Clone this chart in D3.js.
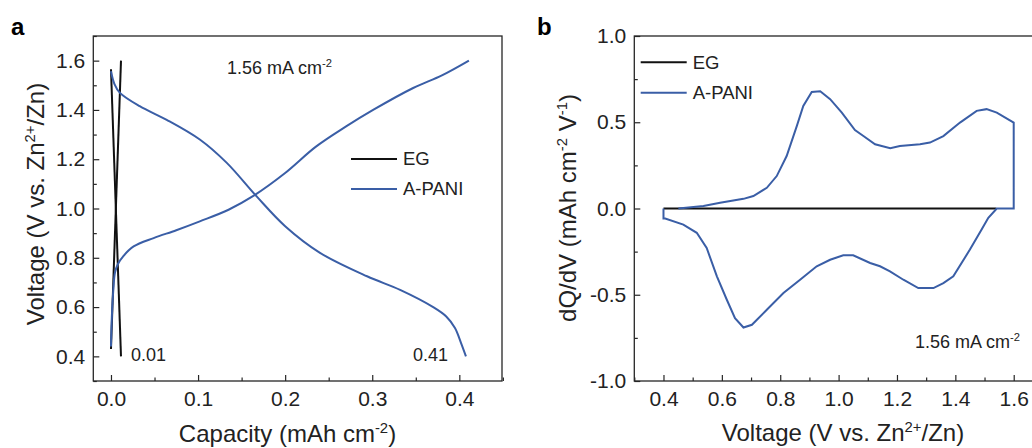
<!DOCTYPE html>
<html>
<head>
<meta charset="utf-8">
<script src="https://cdn.jsdelivr.net/npm/d3@7"></script>
<style>
  body { margin: 0; background: #fff; }
  svg { font-family: Arial, "Liberation Sans", sans-serif; }
  .frame { fill: none; stroke: #262626; stroke-width: 1.3; }
  .axis line { stroke: #262626; stroke-width: 1.2; }
  .axis text { font-size: 21px; fill: #222; }
  .blue { fill: none; stroke: #3a5ea6; stroke-width: 2; }
  .black { fill: none; stroke: #111; stroke-width: 2; }
</style>
</head>
<body>
<svg class="chart"></svg>
<script>
var width = 1032, height = 448;

// panel a: galvanostatic charge/discharge
var egChargeCap = [0.0, 0.0115];
var egChargeV = [0.43, 1.60];
var egDischargeCap = [0.0, 0.0115];
var egDischargeV = [1.565, 0.40];

var paniChargeCap = [0.0, 0.001, 0.0025, 0.0046, 0.008, 0.014, 0.026, 0.049, 0.075, 0.102, 0.135, 0.163, 0.2, 0.235, 0.27, 0.301, 0.347, 0.38, 0.411];
var paniChargeV = [0.44, 0.56, 0.66, 0.74, 0.775, 0.806, 0.846, 0.88, 0.912, 0.948, 0.995, 1.05, 1.144, 1.25, 1.333, 1.40, 1.489, 1.54, 1.60];
var paniDischargeCap = [0.0, 0.004, 0.0103, 0.033, 0.064, 0.102, 0.133, 0.167, 0.2, 0.24, 0.294, 0.332, 0.37, 0.385, 0.395, 0.402, 0.4076];
var paniDischargeV = [1.557, 1.505, 1.469, 1.415, 1.36, 1.28, 1.185, 1.05, 0.928, 0.82, 0.725, 0.67, 0.60, 0.562, 0.515, 0.454, 0.40];

// panel b: dQ/dV
var egCvV = [0.4, 1.54];
var egCvQ = [0, 0];
var paniCvV = [0.451, 0.537, 0.594, 0.674, 0.708, 0.754, 0.788, 0.822, 0.857, 0.879, 0.908, 0.937, 0.971, 1.011, 1.056, 1.085, 1.125, 1.177, 1.21, 1.279, 1.313, 1.359, 1.416, 1.473, 1.507, 1.542, 1.6,
  1.6, 1.542, 1.513, 1.49, 1.45, 1.393, 1.359, 1.325, 1.273, 1.222, 1.176, 1.142, 1.108, 1.05, 1.016, 0.971, 0.925, 0.868, 0.811, 0.754, 0.703, 0.674, 0.645, 0.617, 0.583, 0.548, 0.514, 0.468, 0.406, 0.4, 0.4];
var paniCvQ = [0, 0.014, 0.033, 0.056, 0.072, 0.12, 0.188, 0.304, 0.479, 0.595, 0.676, 0.68, 0.634, 0.556, 0.455, 0.42, 0.372, 0.349, 0.362, 0.372, 0.382, 0.42, 0.498, 0.566, 0.576, 0.556, 0.498,
  0, 0, -0.054, -0.122, -0.238, -0.393, -0.432, -0.461, -0.461, -0.413, -0.364, -0.335, -0.316, -0.271, -0.271, -0.297, -0.335, -0.413, -0.49, -0.587, -0.674, -0.69, -0.636, -0.529, -0.393, -0.229, -0.141, -0.093, -0.058, -0.058, 0];

var aXTicks = [0, 0.1, 0.2, 0.3, 0.4], aXMinor = [0.05, 0.15, 0.25, 0.35, 0.45];
var aYTicks = [0.4, 0.6, 0.8, 1.0, 1.2, 1.4, 1.6], aYMinor = [0.3, 0.5, 0.7, 0.9, 1.1, 1.3, 1.5, 1.7];
var bXTicks = [0.4, 0.6, 0.8, 1.0, 1.2, 1.4, 1.6], bXMinor = [0.3, 0.5, 0.7, 0.9, 1.1, 1.3, 1.5];
var bYTicks = [-1.0, -0.5, 0.0, 0.5, 1.0], bYMinor = [-0.75, -0.25, 0.25, 0.75];

var zip = function(xs, ys) { return xs.map(function(x, i) { return [x, ys[i]]; }); };
var fmt = function(d) { return d3.format(".1f")(d).replace("\u2212", "-"); };
var noDomain = function(s) { s.select(".domain").remove(); };
var noText = function(s) { s.select(".domain").remove(); s.selectAll("text").remove(); };

var chart = d3.select(".chart").attr("width", width).attr("height", height);

function drawPanel(o) {
    var x = d3.scaleLinear().domain(o.xDomain).range([o.left, o.right]);
    var y = d3.scaleLinear().domain(o.yDomain).range([o.bottom, o.top]);
    var g = chart.append("g");

    g.append("g").attr("class", "axis")
        .attr("transform", "translate(0," + o.bottom + ")")
        .call(d3.axisBottom(x).tickValues(o.xTicks).tickSize(-6).tickPadding(10).tickFormat(fmt))
        .call(noDomain);
    g.append("g").attr("class", "axis")
        .attr("transform", "translate(0," + o.bottom + ")")
        .call(d3.axisBottom(x).tickValues(o.xMinor).tickSize(-3.5))
        .call(noText);
    g.append("g").attr("class", "axis")
        .attr("transform", "translate(" + o.left + ",0)")
        .call(d3.axisLeft(y).tickValues(o.yTicks).tickSize(-6).tickPadding(8).tickFormat(fmt))
        .call(noDomain);
    g.append("g").attr("class", "axis")
        .attr("transform", "translate(" + o.left + ",0)")
        .call(d3.axisLeft(y).tickValues(o.yMinor).tickSize(-3.5))
        .call(noText);

    g.append("rect").attr("class", "frame")
        .attr("x", o.left).attr("y", o.top)
        .attr("width", o.right - o.left).attr("height", o.bottom - o.top);

    var line = d3.line().x(function(d) { return x(d[0]); }).y(function(d) { return y(d[1]); }).curve(o.curve);
    o.series.forEach(function(s) {
        g.append("path").attr("class", s.cls).attr("d", line(s.pts));
    });

    // legend
    o.legend.forEach(function(l, i) {
        var ly = o.legendY + i * o.legendGap;
        g.append("line").attr("class", l.cls)
            .attr("x1", o.legendX).attr("x2", o.legendX + 46).attr("y1", ly).attr("y2", ly);
        g.append("text").attr("x", o.legendX + 52).attr("y", ly).attr("dy", "0.35em")
            .style("font-size", "18.5px").attr("fill", "#222").text(l.name);
    });
    return { x: x, y: y, g: g };
}

drawPanel({
    left: 93.3, right: 502, top: 36, bottom: 381,
    xDomain: [-0.0203, 0.449], yDomain: [0.3, 1.7],
    xTicks: aXTicks, xMinor: aXMinor, yTicks: aYTicks, yMinor: aYMinor,
    curve: d3.curveCatmullRom,
    series: [
        { cls: "black", pts: zip(egChargeCap, egChargeV) },
        { cls: "black", pts: zip(egDischargeCap, egDischargeV) },
        { cls: "blue", pts: zip(paniChargeCap, paniChargeV) },
        { cls: "blue", pts: zip(paniDischargeCap, paniDischargeV) }
    ],
    legend: [{ cls: "black", name: "EG" }, { cls: "blue", name: "A-PANI" }],
    legendX: 351, legendY: 159, legendGap: 30
});

drawPanel({
    left: 634.3, right: 1042.9, top: 36, bottom: 381,
    xDomain: [0.3, 1.7], yDomain: [-1, 1],
    xTicks: bXTicks, xMinor: bXMinor, yTicks: bYTicks, yMinor: bYMinor,
    curve: d3.curveLinear,
    series: [
        { cls: "black", pts: zip(egCvV, egCvQ) },
        { cls: "blue", pts: zip(paniCvV, paniCvQ) }
    ],
    legend: [{ cls: "black", name: "EG" }, { cls: "blue", name: "A-PANI" }],
    legendX: 640.7, legendY: 62.3, legendGap: 30.4
});

// text with superscripts; the part after a superscript drops back down
function label(x, y, parts, size, anchor, rotate) {
    var t = chart.append("text").attr("fill", "#222").style("font-size", size + "px")
        .attr("text-anchor", anchor || "start");
    if (rotate) t.attr("transform", "translate(" + x + "," + y + ") rotate(-90)");
    else t.attr("x", x).attr("y", y);
    var shift = size * 0.38, raised = false;
    parts.forEach(function(p) {
        var ts = t.append("tspan").text(p.t);
        if (p.sup) {
            ts.style("font-size", (size * 0.62) + "px");
            if (!raised) ts.attr("dy", -shift);
            raised = true;
        } else if (raised) {
            ts.attr("dy", shift);
            raised = false;
        }
    });
    return t;
}

// panel letters
chart.append("text").attr("x", 11).attr("y", 35).style("font-size", "24px").style("font-weight", "bold").text("a");
chart.append("text").attr("x", 537).attr("y", 35).style("font-size", "24px").style("font-weight", "bold").text("b");

// axis titles
label(287.5, 442, [{ t: "Capacity (mAh cm" }, { t: "-2", sup: true }, { t: ")" }], 24, "middle");
label(44, 204, [{ t: "Voltage (V vs. Zn" }, { t: "2+", sup: true }, { t: "/Zn)" }], 24, "middle", true);
label(843, 441, [{ t: "Voltage (V vs. Zn" }, { t: "2+", sup: true }, { t: "/Zn)" }], 24, "middle");
label(576, 208, [{ t: "dQ/dV (mAh cm" }, { t: "-2", sup: true }, { t: " V" }, { t: "-1", sup: true }, { t: ")" }], 24, "middle", true);

// annotations
label(227, 74, [{ t: "1.56 mA cm" }, { t: "-2", sup: true }], 18);
label(131, 361, [{ t: "0.01" }], 18);
label(413, 361, [{ t: "0.41" }], 18);
label(915, 348, [{ t: "1.56 mA cm" }, { t: "-2", sup: true }], 18);
</script>
</body>
</html>
